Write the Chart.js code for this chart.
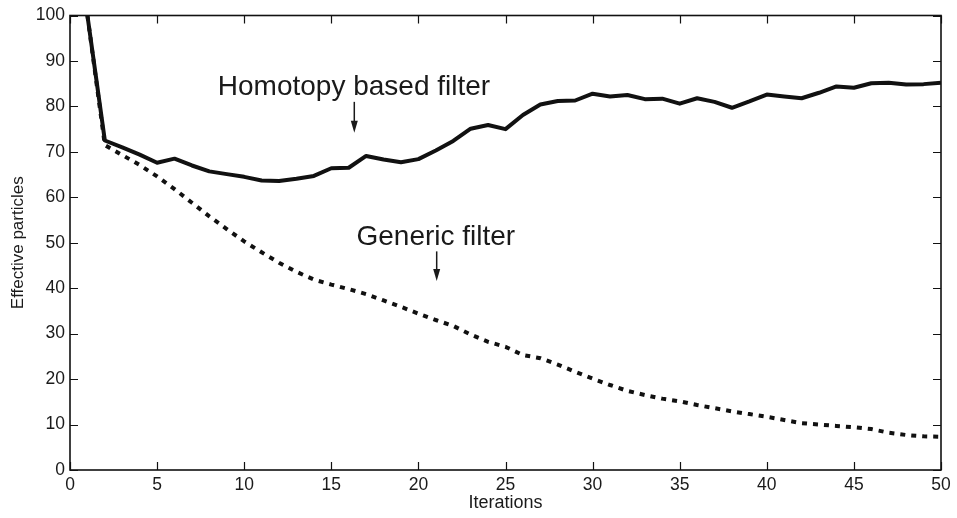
<!DOCTYPE html>
<html>
<head>
<meta charset="utf-8">
<script src="https://cdn.jsdelivr.net/npm/chart.js@4/dist/chart.umd.min.js"></script>
<style>
html,body{margin:0;padding:0;background:#fff;}
#wrap{width:957px;height:518px;}
</style>
</head>
<body>
<div id="wrap"><canvas id="c" width="957" height="518"></canvas></div>
<script>
// ---- data ----
const iterations = [1,2,3,4,5,6,7,8,9,10,11,12,13,14,15,16,17,18,19,20,21,22,23,24,25,26,27,28,29,30,31,32,33,34,35,36,37,38,39,40,41,42,43,44,45,46,47,48,49,50];
const homotopyFilter = [100,72.5,71,69.4,67.6,68.5,67,65.7,65.1,64.5,63.7,63.6,64.1,64.7,66.4,66.5,69.1,68.3,67.7,68.4,70.3,72.4,75.1,75.9,75.0,78.1,80.4,81.2,81.3,82.8,82.2,82.5,81.6,81.7,80.6,81.8,81.0,79.7,81.1,82.6,82.2,81.8,83.0,84.4,84.1,85.1,85.2,84.8,84.9,85.2];
const genericFilter = [100,71.5,69.3,67.1,64.6,61.8,58.8,55.8,53.0,50.3,47.9,45.6,43.6,41.9,40.8,39.8,38.7,37.3,35.9,34.4,33.0,31.7,29.8,28.2,27.1,25.3,24.6,23.2,21.6,20.1,18.7,17.4,16.5,15.7,15.1,14.3,13.6,12.9,12.3,11.7,11.0,10.3,10.0,9.7,9.4,9.0,8.2,7.7,7.4,7.3];
const xTicks = [0,5,10,15,20,25,30,35,40,45,50];
const yTicks = [0,10,20,30,40,50,60,70,80,90,100];
const xTitle = 'Iterations';
const yTitle = 'Effective particles';
// annotations in data units
const annotationLabels = ['Homotopy based filter', 'Generic filter'];
const annotationTextX = [16.3, 21.0];
const annotationTextY = [82.4, 49.6];
const annotationArrowX = [16.32, 21.05];
const annotationArrowFrom = [81.0, 48.1];
const annotationArrowTo = [74.2, 41.6];

const FONT = '"Liberation Sans", Arial, Helvetica, sans-serif';
const INK = '#111';

const boxPlugin = {
  id: 'boxTicks',
  afterDatasetsDraw(chart) {
    const ctx = chart.ctx;
    const xs = chart.scales.x, ys = chart.scales.y;
    const a = chart.chartArea;
    ctx.save();
    ctx.strokeStyle = INK;
    ctx.lineWidth = 1.6;
    ctx.strokeRect(a.left, a.top, a.right - a.left, a.bottom - a.top);
    ctx.lineWidth = 1.2;
    const L = 8;
    ctx.beginPath();
    xTicks.forEach(v => {
      const px = Math.round(xs.getPixelForValue(v)) + 0.5;
      ctx.moveTo(px, a.bottom); ctx.lineTo(px, a.bottom - L);
      ctx.moveTo(px, a.top); ctx.lineTo(px, a.top + L);
    });
    yTicks.forEach(v => {
      const py = Math.round(ys.getPixelForValue(v)) + 0.5;
      ctx.moveTo(a.left, py); ctx.lineTo(a.left + L, py);
      ctx.moveTo(a.right, py); ctx.lineTo(a.right - L, py);
    });
    ctx.stroke();
    // annotations
    ctx.fillStyle = '#1a1a1a';
    ctx.font = '28px ' + FONT;
    ctx.textAlign = 'center';
    ctx.textBaseline = 'alphabetic';
    annotationLabels.forEach((t, i) => {
      const tx = xs.getPixelForValue(annotationTextX[i]);
      const ty = ys.getPixelForValue(annotationTextY[i]);
      ctx.fillText(t, tx, ty);
      const ax = xs.getPixelForValue(annotationArrowX[i]);
      const y0 = ys.getPixelForValue(annotationArrowFrom[i]);
      const y1 = ys.getPixelForValue(annotationArrowTo[i]);
      ctx.strokeStyle = '#1a1a1a';
      ctx.lineWidth = 1.5;
      ctx.beginPath();
      ctx.moveTo(ax, y0); ctx.lineTo(ax, y1 - 8);
      ctx.stroke();
      ctx.beginPath();
      ctx.moveTo(ax, y1);
      ctx.lineTo(ax - 3.5, y1 - 12);
      ctx.lineTo(ax + 3.5, y1 - 12);
      ctx.closePath();
      ctx.fill();
    });
    ctx.restore();
  }
};

new Chart(document.getElementById('c'), {
  type: 'line',
  data: {
    datasets: [
      {
        label: 'Homotopy based filter',
        data: iterations.map((x, i) => ({x, y: homotopyFilter[i]})),
        borderColor: INK,
        borderWidth: 4,
        pointRadius: 0,
        tension: 0,
        borderJoinStyle: 'round',
        fill: false
      },
      {
        label: 'Generic filter',
        data: iterations.map((x, i) => ({x, y: genericFilter[i]})),
        borderColor: INK,
        borderWidth: 4,
        borderDash: [5, 6],
        borderCapStyle: 'butt',
        pointRadius: 0,
        tension: 0,
        fill: false
      }
    ]
  },
  options: {
    responsive: false,
    animation: false,
    devicePixelRatio: 1,
    layout: { padding: { top: 13, right: 16, left: 0, bottom: 0 } },
    plugins: { legend: { display: false }, tooltip: { enabled: false } },
    scales: {
      x: {
        type: 'linear',
        min: 0, max: 50,
        afterBuildTicks: s => { s.ticks = xTicks.map(v => ({value: v})); },
        afterFit: s => { s.height = 48; },
        grid: { display: false, drawTicks: false },
        border: { display: false },
        ticks: { color: '#1a1a1a', font: { family: FONT, size: 17.5 }, padding: 5, maxRotation: 0, autoSkip: false },
        title: { display: true, text: xTitle, color: '#1a1a1a', font: { family: FONT, size: 18, lineHeight: 1.2 }, padding: { top: 0, bottom: 4 } }
      },
      y: {
        type: 'linear',
        min: 0, max: 100,
        afterBuildTicks: s => { s.ticks = yTicks.map(v => ({value: v})); },
        afterFit: s => { s.width = 70; },
        grid: { display: false, drawTicks: false },
        border: { display: false },
        ticks: { color: '#1a1a1a', font: { family: FONT, size: 17.5 }, padding: 5, autoSkip: false },
        title: { display: true, text: yTitle, color: '#1a1a1a', font: { family: FONT, size: 17, lineHeight: 1.0 }, padding: { top: 9.5, bottom: 0 } }
      }
    }
  },
  plugins: [boxPlugin]
});
</script>
</body>
</html>
